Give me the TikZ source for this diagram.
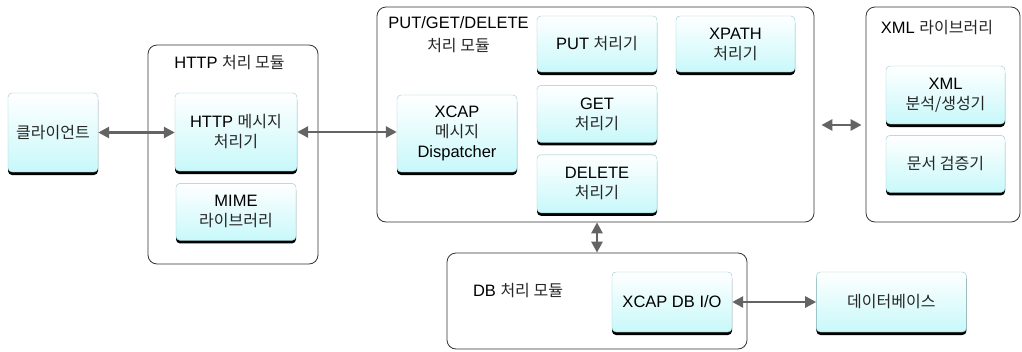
\documentclass[tikz,border=0pt]{standalone}
\usepackage{fontspec}
\setmainfont{Liberation Sans}
\newfontfamily\kr[Scale=0.97]{Noto Sans CJK KR}
\usetikzlibrary{positioning,arrows.meta,shadows}

\definecolor{boxcyan}{RGB}{200,248,250}
\definecolor{boxedge}{RGB}{150,200,205}
\definecolor{linkgray}{RGB}{100,100,100}
\newcommand{\ko}[1]{{\kr\color{black!85}#1}}

\begin{document}
\begin{tikzpicture}[
			x=1pt, y=-1pt
			,every node/.append style={font=\fontsize{16.5}{20}\selectfont, align=center}
			,box/.style={draw=boxedge, rounded corners=4pt, top color=white, bottom color=boxcyan
				, minimum width=120pt, minimum height=57pt, inner sep=2pt
				, drop shadow={shadow xshift=0pt, shadow yshift=-3pt, fill=black, opacity=1}}
			,mod/.style={draw=black!80, rounded corners=9pt, line width=0.8pt}
			,link/.style={draw=linkgray, line width=2.6pt
				, {Triangle[length=11pt,width=11pt]}-{Triangle[length=11pt,width=11pt]}}
		]
			\useasboundingbox (0,0) rectangle (1022,351);

			% modules
			\node [mod, minimum width=170pt, minimum height=219pt] (httpmod) at (233,154.5) {};
			\node [mod, minimum width=437pt, minimum height=215pt] (pgdmod) at (595.5,114.5) {};
			\node [mod, minimum width=154pt, minimum height=215pt] (xmlmod) at (943,114.5) {};
			\node [mod, minimum width=300pt, minimum height=96pt] (dbmod) at (597,301) {};

			\node (httplbl) at (229.5,63) {HTTP \ko{처리 모듈}};
			\node [font=\fontsize{16.5}{23}\selectfont] (pgdlbl) at (458.5,35) {PUT/GET/DELETE\\\ko{처리 모듈}};
			\node (xmllbl) at (937,28) {XML \ko{라이브러리}};
			\node (dblbl) at (518,291) {DB \ko{처리 모듈}};

			% boxes
			\node [box, minimum width=90pt, minimum height=79pt] (client) at (53,132.5) {\ko{클라이언트}};
			\node [box, minimum width=122pt, minimum height=78pt] (httpmsg) at (236,132) {HTTP \ko{메시지}\\\ko{처리기}};
			\node [box, below=12pt of httpmsg] (mime) {MIME\\\ko{라이브러리}};

			\node [box, minimum height=77pt] (disp) at (457,133.5) {XCAP\\\ko{메시지}\\Dispatcher};
			\node [box, minimum height=56pt] (put) at (597,44) {PUT \ko{처리기}};
			\node [box, below=13pt of put] (get) {GET\\\ko{처리기}};
			\node [box, below=12pt of get, minimum height=58pt] (delete) {DELETE\\\ko{처리기}};
			\node [box, minimum width=119pt, minimum height=56pt] (xpath) at (735.5,44) {XPATH\\\ko{처리기}};

			\node [box, minimum width=119pt, minimum height=58pt] (xmlparse) at (945.5,95) {XML\\\ko{분석/생성기}};
			\node [box, minimum width=119pt, below=11pt of xmlparse] (valid) {\ko{문서 검증기}};

			\node [box, minimum height=60pt] (dbio) at (672,302) {XCAP DB I/O};
			\node [box, minimum width=150pt, minimum height=60pt, right=84pt of dbio] (db) {\ko{데이터베이스}};

			% links
			\coordinate (xmlarrow) at (0,125);
			\coordinate (dbarrow) at (597,0);
			\draw [link] (client.east) -- (client.east -| httpmsg.west);
			\draw [link] (httpmsg.east) -- (httpmsg.east -| disp.west);
			\draw [link, shorten <=7pt, shorten >=4pt] (pgdmod.east |- xmlarrow) -- (xmlmod.west |- xmlarrow);
			\draw [link] (pgdmod.south -| dbarrow) -- (dbmod.north -| dbarrow);
			\draw [link] (dbio) -- (db);
		\end{tikzpicture}
\end{document}
